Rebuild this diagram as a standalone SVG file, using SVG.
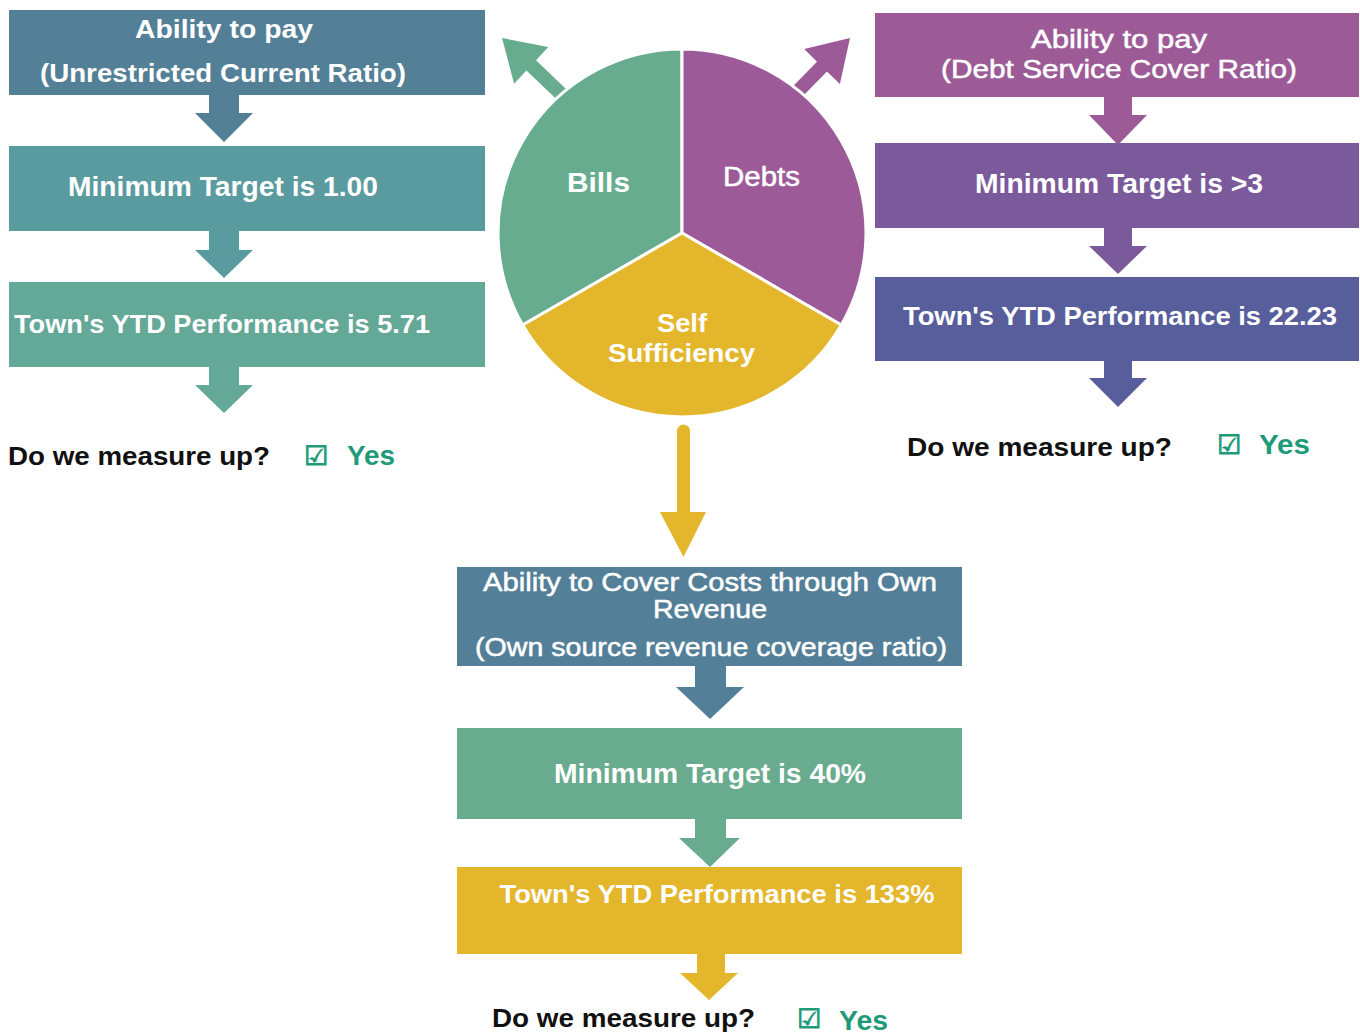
<svg xmlns="http://www.w3.org/2000/svg" width="1360" height="1036" viewBox="0 0 1360 1036">
<style>
.t{font-family:"Liberation Sans",Arial,sans-serif;fill:#ffffff;text-anchor:middle}
.b{font-weight:bold}
.m{stroke:#ffffff;stroke-width:0.5}
.q{font-family:"Liberation Sans",Arial,sans-serif;font-weight:bold;fill:#111111;font-size:25px}
.y{font-family:"Liberation Sans",Arial,sans-serif;font-weight:bold;fill:#1f9a78;font-size:27px}
.ck{font-family:"DejaVu Sans",sans-serif;fill:#1f9a78;stroke:#1f9a78;stroke-width:0.9;font-size:27px}
</style>
<rect width="1360" height="1036" fill="#ffffff"/>

<g id="connectors">
  <!-- pie outward arrows -->
  <polygon points="584.8,106.9 536,60.3 548.3,47.1 502,38 514.1,83.7 526.4,70.5 575.2,117.1" fill="#68ac8f"/>
  <polygon points="764.5,115.2 817,61.7 804.2,49.1 850,38 839.9,84.1 827,71.5 774.5,125" fill="#9c5b98"/>
  <!-- pie down arrow -->
  <path d="M677,431 a6.5,6.5 0 0 1 13,0 V512 H706 L683.5,557 L660,512 H677 Z" fill="#e3b62b"/>
  <!-- left column -->
  <polygon points="209,95 239,95 239,113 253,113 224,142 195,113 209,113" fill="#537f97"/>
  <polygon points="209,231 239,231 239,250 253,250 224,278 195,250 209,250" fill="#5a9ba0"/>
  <polygon points="209,367 239,367 239,385 253,385 224,413 195,385 209,385" fill="#64a898"/>
  <!-- right column -->
  <polygon points="1104,97 1132,97 1132,115 1147,115 1118,145 1089,115 1104,115" fill="#9c5b96"/>
  <polygon points="1104,228 1132,228 1132,246 1147,246 1118,274 1089,246 1104,246" fill="#7b5a9b"/>
  <polygon points="1104,361 1132,361 1132,378 1147,378 1118,407 1089,378 1104,378" fill="#575e9b"/>
  <!-- bottom column -->
  <polygon points="695,666 726,666 726,687 744,687 710,719 676,687 695,687" fill="#547f98"/>
  <polygon points="695,819 726,819 726,838 740,838 710,867 679,838 695,838" fill="#68ab8f"/>
  <polygon points="697,954 725,954 725,973 738,973 709,1000 680,973 697,973" fill="#e3b62b"/>
</g>

<g id="pie">
  <path d="M682,233 L682,49 A184,184 0 0 0 522.7,325 Z" fill="#68ac8f" stroke="#ffffff" stroke-width="3" stroke-linejoin="round"/>
  <path d="M682,233 L682,49 A184,184 0 0 1 841.3,325 Z" fill="#9c5b98" stroke="#ffffff" stroke-width="3" stroke-linejoin="round"/>
  <path d="M682,233 L841.3,325 A184,184 0 0 1 522.7,325 Z" fill="#e3b62b" stroke="#ffffff" stroke-width="3" stroke-linejoin="round"/>
  <text class="t b" x="598.5" y="192" font-size="27" textLength="63" lengthAdjust="spacingAndGlyphs">Bills</text>
  <text class="t m" x="761.5" y="186" font-size="27" textLength="77" lengthAdjust="spacingAndGlyphs">Debts</text>
  <text class="t b" x="682" y="332" font-size="26" textLength="50" lengthAdjust="spacingAndGlyphs">Self</text>
  <text class="t b" x="681.5" y="362" font-size="26" textLength="147" lengthAdjust="spacingAndGlyphs">Sufficiency</text>
</g>

<g id="left-1">
  <rect x="9" y="10" width="476" height="85" fill="#537f97"/>
  <text class="t b" x="224" y="38" font-size="25" textLength="178" lengthAdjust="spacingAndGlyphs">Ability to pay</text>
  <text class="t b" x="223" y="82" font-size="25" textLength="366" lengthAdjust="spacingAndGlyphs">(Unrestricted Current Ratio)</text>
</g>
<g id="left-2">
  <rect x="9" y="146" width="476" height="85" fill="#5a9ba0"/>
  <text class="t b" x="223" y="196" font-size="27" textLength="310" lengthAdjust="spacingAndGlyphs">Minimum Target is 1.00</text>
</g>
<g id="left-3">
  <rect x="9" y="282" width="476" height="85" fill="#64a898"/>
  <text class="t b" x="222" y="333" font-size="25" textLength="416" lengthAdjust="spacingAndGlyphs">Town's YTD Performance is 5.71</text>
</g>
<g id="left-answer">
  <text class="q" x="8" y="465" textLength="262" lengthAdjust="spacingAndGlyphs">Do we measure up?</text>
  <text class="ck" x="304" y="465">☑</text>
  <text class="y" x="347" y="465" textLength="48" lengthAdjust="spacingAndGlyphs">Yes</text>
</g>

<g id="right-1">
  <rect x="875" y="13" width="484" height="84" fill="#9c5b96"/>
  <text class="t m" x="1119" y="48" font-size="26" textLength="176" lengthAdjust="spacingAndGlyphs">Ability to pay</text>
  <text class="t m" x="1119" y="78" font-size="26" textLength="356" lengthAdjust="spacingAndGlyphs">(Debt Service Cover Ratio)</text>
</g>
<g id="right-2">
  <rect x="875" y="143" width="484" height="85" fill="#7b5a9b"/>
  <text class="t b" x="1119" y="193" font-size="27" textLength="288" lengthAdjust="spacingAndGlyphs">Minimum Target is &gt;3</text>
</g>
<g id="right-3">
  <rect x="875" y="277" width="484" height="84" fill="#575e9b"/>
  <text class="t b" x="1120" y="325" font-size="25" textLength="434" lengthAdjust="spacingAndGlyphs">Town's YTD Performance is 22.23</text>
</g>
<g id="right-answer">
  <text class="q" x="907" y="456" textLength="265" lengthAdjust="spacingAndGlyphs">Do we measure up?</text>
  <text class="ck" x="1217" y="454">☑</text>
  <text class="y" x="1259" y="454" textLength="51" lengthAdjust="spacingAndGlyphs">Yes</text>
</g>

<g id="bottom-1">
  <rect x="457" y="567" width="505" height="99" fill="#547f98"/>
  <text class="t m" x="710" y="591" font-size="26" textLength="454" lengthAdjust="spacingAndGlyphs">Ability to Cover Costs through Own</text>
  <text class="t m" x="710" y="618" font-size="26" textLength="114" lengthAdjust="spacingAndGlyphs">Revenue</text>
  <text class="t m" x="711" y="656" font-size="26" textLength="472" lengthAdjust="spacingAndGlyphs">(Own source revenue coverage ratio)</text>
</g>
<g id="bottom-2">
  <rect x="457" y="728" width="505" height="91" fill="#68ab8f"/>
  <text class="t b" x="710" y="783" font-size="27" textLength="312" lengthAdjust="spacingAndGlyphs">Minimum Target is 40%</text>
</g>
<g id="bottom-3">
  <rect x="457" y="867" width="505" height="87" fill="#e3b62b"/>
  <text class="t b" x="717" y="903" font-size="25" textLength="435" lengthAdjust="spacingAndGlyphs">Town's YTD Performance is 133%</text>
</g>
<g id="bottom-answer">
  <text class="q" x="492" y="1027" textLength="263" lengthAdjust="spacingAndGlyphs">Do we measure up?</text>
  <text class="ck" x="797" y="1028">☑</text>
  <text class="y" x="839" y="1030" textLength="49" lengthAdjust="spacingAndGlyphs">Yes</text>
</g>
</svg>
